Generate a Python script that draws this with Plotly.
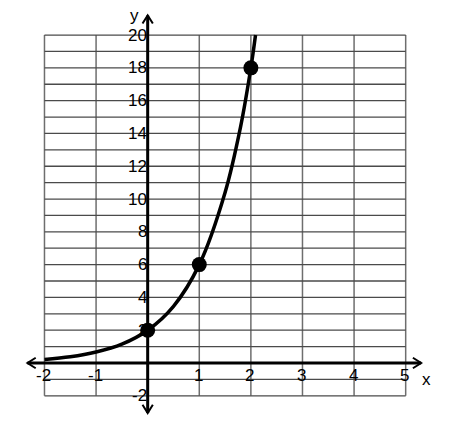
import plotly.graph_objects as go

# ---- data ----
curve_x = [-2, -1.5, -1, -0.5, 0, 0.5, 1, 1.5, 1.8, 2, 2.09]
curve_y = [0.22, 0.38, 0.67, 1.15, 2, 3.46, 6, 10.4, 14.4, 18, 20]
point_x = [0, 1, 2]
point_y = [2, 6, 18]
x_ticks = [-2, -1, 1, 2, 3, 4, 5]
y_ticks = [20, 18, 16, 14, 12, 10, 8, 6, 4, 2, -2]
grid_x = list(range(-2, 6))
grid_y = list(range(-2, 21))

fig = go.Figure()

# grid
gx, gy = [], []
for v in grid_x:
    gx += [v, v, None]
    gy += [grid_y[0], grid_y[-1], None]
fig.add_trace(go.Scatter(x=gx, y=gy, mode="lines",
                         line=dict(color="#6e6e6e", width=1.5), hoverinfo="skip"))
hx, hy = [], []
for v in grid_y:
    hx += [grid_x[0], grid_x[-1], None]
    hy += [v, v, None]
fig.add_trace(go.Scatter(x=hx, y=hy, mode="lines",
                         line=dict(color="#4a4a4a", width=1.3), hoverinfo="skip"))

# axes
fig.add_shape(type="line", x0=-2.33, x1=5.3, y0=0, y1=0, line=dict(color="black", width=3))
fig.add_shape(type="line", x0=0, x1=0, y0=-3.05, y1=21.2, line=dict(color="black", width=3))
# arrowheads (open chevrons)
ax = 0.16
ay = 0.32
fig.add_shape(type="path", path=f"M {5.3-ax},{ay} L 5.3,0 L {5.3-ax},{-ay}",
              line=dict(color="black", width=2))
fig.add_shape(type="path", path=f"M {-2.33+ax},{ay} L -2.33,0 L {-2.33+ax},{-ay}",
              line=dict(color="black", width=2))
bx = 0.1
by = 0.5
fig.add_shape(type="path", path=f"M {-bx},{21.2-by} L 0,21.2 L {bx},{21.2-by}",
              line=dict(color="black", width=2))
fig.add_shape(type="path", path=f"M {-bx},{-3.05+by} L 0,-3.05 L {bx},{-3.05+by}",
              line=dict(color="black", width=2))

# curve
fig.add_trace(go.Scatter(x=curve_x, y=curve_y, mode="lines",
                         line=dict(color="black", width=3.5, shape="spline"), hoverinfo="skip"))
fig.add_trace(go.Scatter(x=point_x, y=point_y, mode="markers",
                         marker=dict(color="black", size=15), hoverinfo="skip"))

font = dict(family="Liberation Sans, Arial, sans-serif", size=17, color="black")
for t in x_ticks:
    fig.add_annotation(x=t, y=0, text=str(t), showarrow=False, font=font,
                       xanchor="center", yanchor="middle", yshift=-12, xshift=-1)
for t in y_ticks:
    fig.add_annotation(x=0, y=t, text=str(t), showarrow=False, font=font,
                       xanchor="right", yanchor="middle", xshift=1)
fig.add_annotation(x=5.41, y=-0.98, text="x", showarrow=False, font=font)
fig.add_annotation(x=-0.25, y=21.2, text="y", showarrow=False, font=font)

fig.update_layout(
    width=458, height=426,
    margin=dict(l=0, r=0, t=0, b=0),
    paper_bgcolor="white", plot_bgcolor="white",
    showlegend=False,
    xaxis=dict(range=[-2.707, 6.169], visible=False, fixedrange=True),
    yaxis=dict(range=[-4.33, 21.65], visible=False, fixedrange=True),
)
fig.write_html("out.html")
